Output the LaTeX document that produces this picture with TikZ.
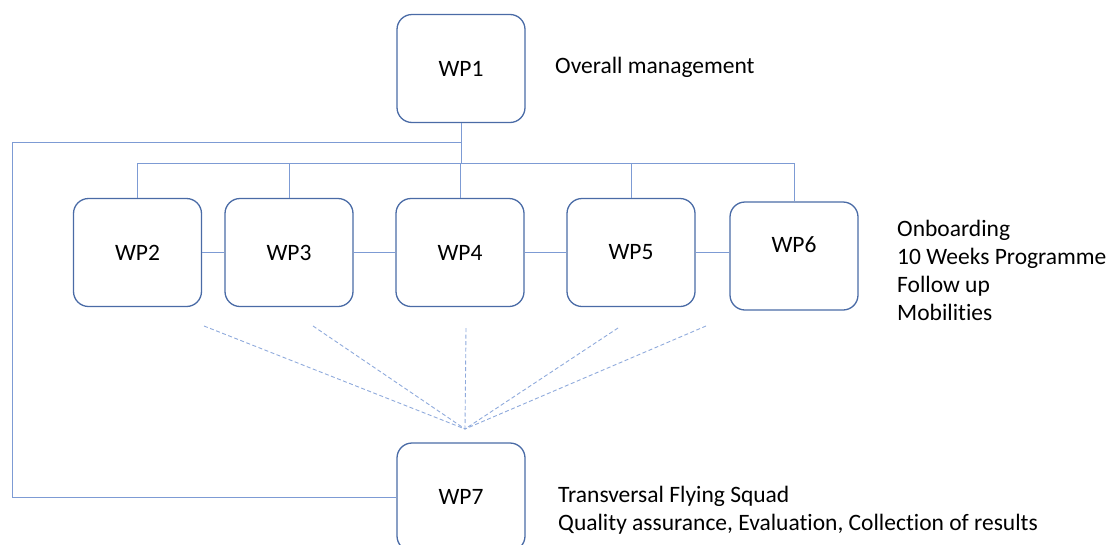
\documentclass[tikz,border=0pt]{standalone}
\usepackage{fontspec}
\setmainfont{Carlito}[Ligatures=NoCommon]
\definecolor{boxblue}{RGB}{74,107,166}
\definecolor{lineblue}{RGB}{125,155,212}
\definecolor{dashblue}{RGB}{143,170,220}
\begin{document}
\begin{tikzpicture}[x=1pt,y=-1pt,
  wp/.style={draw=boxblue, line width=1.3pt, rounded corners=15pt,
    minimum width=128pt, minimum height=108pt, inner sep=0pt,
    font=\fontsize{23.5}{28}\selectfont, text=black},
  link/.style={draw=lineblue, line width=1pt},
  feed/.style={draw=dashblue, line width=0.9pt, dash pattern=on 4pt off 2.5pt},
  note/.style={font=\fontsize{23.5}{28}\selectfont, align=left, inner sep=0pt, text=black}]
\useasboundingbox (0,0) rectangle (1109,544);
\clip (0,0) rectangle (1109,544);

% work package boxes
\node[wp] (wp1) at (461,68.5) {WP1};
\node[wp] (wp2) at (137.5,252.5) {WP2};
\node[wp] (wp3) at (289,252.5) {WP3};
\node[wp] (wp4) at (460,252.5) {WP4};
\node[wp] (wp5) at (631,252.5) {WP5};
\node[wp, label={[font=\fontsize{23.5}{28}\selectfont, yshift=11pt]center:WP6}] (wp6) at (794,256) {};
\node[wp] (wp7) at (461,497) {WP7};

% descriptions
\node[note, anchor=west] (d1) at (555,67) {Overall management};
\node[note, anchor=west] (d2) at (897,270.5) {Onboarding\\10 Weeks Programme\\Follow up\\Mobilities};
\node[note, anchor=west] (d7) at (558,510.5) {Transversal Flying Squad\\Quality assurance, Evaluation, Collection of results};

% tree from WP1 to WP2..WP6
\coordinate (bus) at (0,163);
\draw[link] (wp1.south) -- (wp1.south |- bus);
\draw[link] (wp2.north) -- (wp2.north |- bus) -| (wp6.north);
\draw[link] (wp3.north) -- (wp3.north |- bus);
\draw[link] (wp4.north) -- (wp4.north |- bus);
\draw[link] (wp5.north) -- (wp5.north |- bus);

% loop from WP1 down to WP7
\coordinate (loop) at (12,142);
\draw[link] (wp1.south |- loop) -- (loop) |- (wp7.west);

% chain between the boxes
\draw[link] (wp2.east) -- (wp3.west);
\draw[link] (wp3.east) -- (wp4.west);
\draw[link] (wp4.east) -- (wp5.west);
\draw[link] (wp5.east) -- (wp5.east -| wp6.west);

% dashed feeds into WP7
\coordinate (hub) at (465,429);
\coordinate (f2) at (204,326);
\coordinate (f3) at (313,326);
\coordinate (f4) at (466,328);
\coordinate (f5) at (618,328);
\coordinate (f6) at (706,326);
\foreach \f in {f2,f3,f4,f5,f6} \draw[feed] (\f) -- (hub);
\end{tikzpicture}
\end{document}
